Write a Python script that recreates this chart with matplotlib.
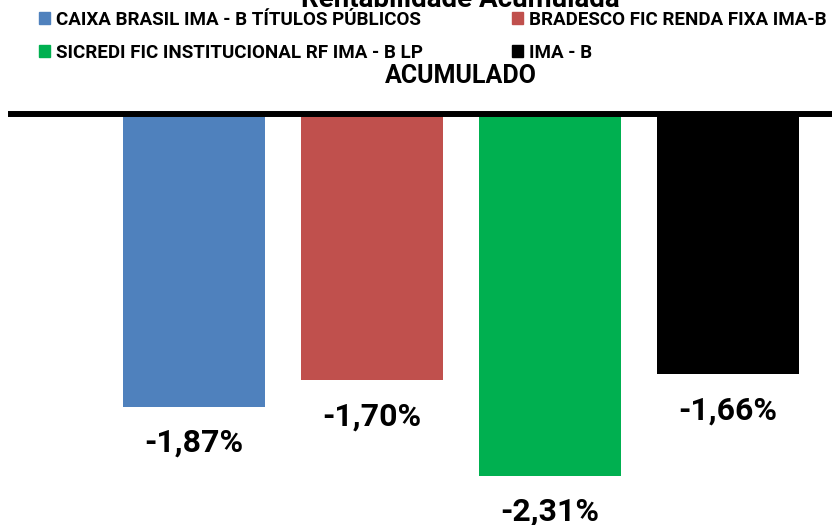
import matplotlib
matplotlib.use("Agg")
import matplotlib.pyplot as plt
from matplotlib.patches import Patch

plt.rcParams['font.family'] = ['Roboto', 'DejaVu Sans']
plt.rcParams['font.weight'] = 'bold'

# dados
categorias = ["ACUMULADO"]
fundos = ["CAIXA BRASIL IMA - B TÍTULOS PÚBLICOS",
          "BRADESCO FIC RENDA FIXA IMA-B",
          "SICREDI FIC INSTITUCIONAL RF IMA - B LP",
          "IMA - B"]
rentab = [-1.87, -1.70, -2.31, -1.66]
rotulos = ["-1,87%", "-1,70%", "-2,31%", "-1,66%"]
cores = ["#4F81BD", "#C0504D", "#00B050", "#000000"]

W, H = 832, 525
fig = plt.figure(figsize=(W / 100, H / 100), dpi=100)
ax = fig.add_axes([11 / W, 0, 1 - 11 / W, 1 - 114 / H])

pos = list(range(len(fundos)))
barras = ax.bar(pos, rentab, width=0.8, color=cores, zorder=1)

for b, txt in zip(barras, rotulos):
    ax.annotate(txt, (b.get_x() + b.get_width() / 2, b.get_height()),
                xytext=(0, -36), textcoords='offset pixels',
                ha='center', va='center', fontsize=23, fontweight='bold')

ax.set_xlim(-1.031, 3.587)
ax.set_ylim(-(H - 114) / 156.7, 0)

for s in ['left', 'right', 'bottom']:
    ax.spines[s].set_visible(False)
ax.spines['top'].set_linewidth(4.3)
ax.spines['top'].set_zorder(3)
ax.set_yticks([])
ax.xaxis.tick_top()
ax.set_xticks([1.5])
ax.set_xticklabels(categorias, fontsize=18, fontweight='bold')
ax.tick_params(axis='x', length=0, pad=19)

# legenda em duas colunas
h = [Patch(color=c) for c in cores]
kw = dict(loc='upper left', frameon=False, fontsize=13.5, borderpad=0,
          borderaxespad=0, handlelength=0.6, handleheight=0.6,
          handletextpad=0.33, labelspacing=0.8)
leg1 = fig.legend([h[0], h[2]], [fundos[0], fundos[2]],
                  bbox_to_anchor=(39 / W, 1 - 11 / H), **kw)
leg2 = fig.legend([h[1], h[3]], [fundos[1], fundos[3]],
                  bbox_to_anchor=(512 / W, 1 - 11 / H), **kw)

fig.text(460 / W, 1 - 7 / H, "Rentabilidade Acumulada", ha='center',
         va='baseline', fontsize=20, fontweight='bold')

fig.savefig("out.png", dpi=100)
